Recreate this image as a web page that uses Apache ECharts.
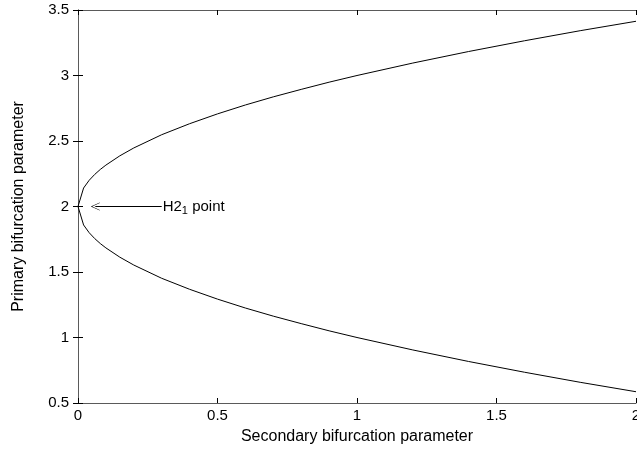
<!DOCTYPE html>
<html><head><meta charset="utf-8">
<script src="https://cdn.jsdelivr.net/npm/echarts@6/dist/echarts.min.js"></script>
<style>html,body{margin:0;padding:0;background:#fff}#c{width:637px;height:457px}</style>
</head><body><div id="c"></div>
<script>
// Readings from the picture
var xValues = [0, 0.02, 0.04, 0.06, 0.08, 0.1, 0.15, 0.2, 0.3, 0.4, 0.5, 0.6, 0.7, 0.8, 0.9, 1.0, 1.2, 1.4, 1.6, 1.8, 2.0];
var upperBranch = [2, 2.141, 2.2, 2.245, 2.283, 2.316, 2.387, 2.447, 2.548, 2.632, 2.707, 2.775, 2.837, 2.894, 2.949, 3.0, 3.095, 3.183, 3.265, 3.342, 3.414];
var lowerBranch = [2, 1.859, 1.8, 1.755, 1.717, 1.684, 1.613, 1.553, 1.452, 1.368, 1.293, 1.225, 1.163, 1.106, 1.051, 1.0, 0.905, 0.817, 0.735, 0.658, 0.586];
var xTicks = [0, 0.5, 1, 1.5, 2];
var yTicks = [0.5, 1, 1.5, 2, 2.5, 3, 3.5];
var arrowFrom = [0.3, 2];
var arrowTo = [0.062, 2];

var curve = [];
for (var i = upperBranch.length - 1; i >= 0; i--) curve.push([xValues[i], upperBranch[i]]);
for (var j = 1; j < lowerBranch.length; j++) curve.push([xValues[j], lowerBranch[j]]);

var font = 'Liberation Sans, Arial, sans-serif';
var frameColor = '#5a5a5a';
var axisCommon = {
  type: 'value', splitLine: {show: false},
  axisLine: {show: true, lineStyle: {color: frameColor, width: 1}},
  axisTick: {show: true, inside: true, length: 5, lineStyle: {color: '#000'}}
};
var chart = echarts.init(document.getElementById('c'));
chart.setOption({
  animation: false,
  grid: {left: 78, right: 1, top: 10, bottom: 54, containLabel: false, outerBoundsMode: 'none'},
  xAxis: [
    Object.assign({}, axisCommon, {
      min: xTicks[0], max: xTicks[xTicks.length - 1], interval: 0.5,
      name: 'Secondary bifurcation parameter', nameLocation: 'middle', nameGap: 26,
      nameTextStyle: {fontFamily: font, fontSize: 16, color: '#000'},
      axisLabel: {fontFamily: font, fontSize: 15, color: '#000', margin: 5, alignMaxLabel: 'center'}
    }),
    Object.assign({}, axisCommon, {
      position: 'top', min: xTicks[0], max: xTicks[xTicks.length - 1], interval: 0.5,
      axisLabel: {show: false}
    })
  ],
  yAxis: [
    Object.assign({}, axisCommon, {
      min: yTicks[0], max: yTicks[yTicks.length - 1], interval: 0.5,
      name: 'Primary bifurcation parameter', nameLocation: 'middle', nameGap: 51,
      nameTextStyle: {fontFamily: font, fontSize: 16, color: '#000'},
      axisLabel: {fontFamily: font, fontSize: 15, color: '#000', margin: 9}
    }),
    Object.assign({}, axisCommon, {
      position: 'right', min: yTicks[0], max: yTicks[yTicks.length - 1], interval: 0.5,
      axisLabel: {show: false}
    })
  ],
  series: [{
    type: 'line', data: curve, showSymbol: false, symbol: 'none',
    lineStyle: {color: '#000', width: 1}, silent: true,
    markLine: {
      silent: true, animation: false,
      symbol: ['none', 'path://M0,0 L7,13 L6,13 L0,2 L-6,13 L-7,13 Z'],
      symbolSize: [8, 9],
      lineStyle: {color: '#000', width: 1, type: 'solid'},
      label: {
        show: true, position: 'start', distance: 1,
        formatter: '{a|H2}{s|1}{a| point}',
        rich: {
          a: {fontFamily: font, fontSize: 15, color: '#000'},
          s: {fontFamily: font, fontSize: 11, color: '#000', verticalAlign: 'top', padding: [9, 0, 0, 0]}
        }
      },
      data: [[{coord: arrowFrom}, {coord: arrowTo}]]
    }
  }]
});
</script></body></html>
